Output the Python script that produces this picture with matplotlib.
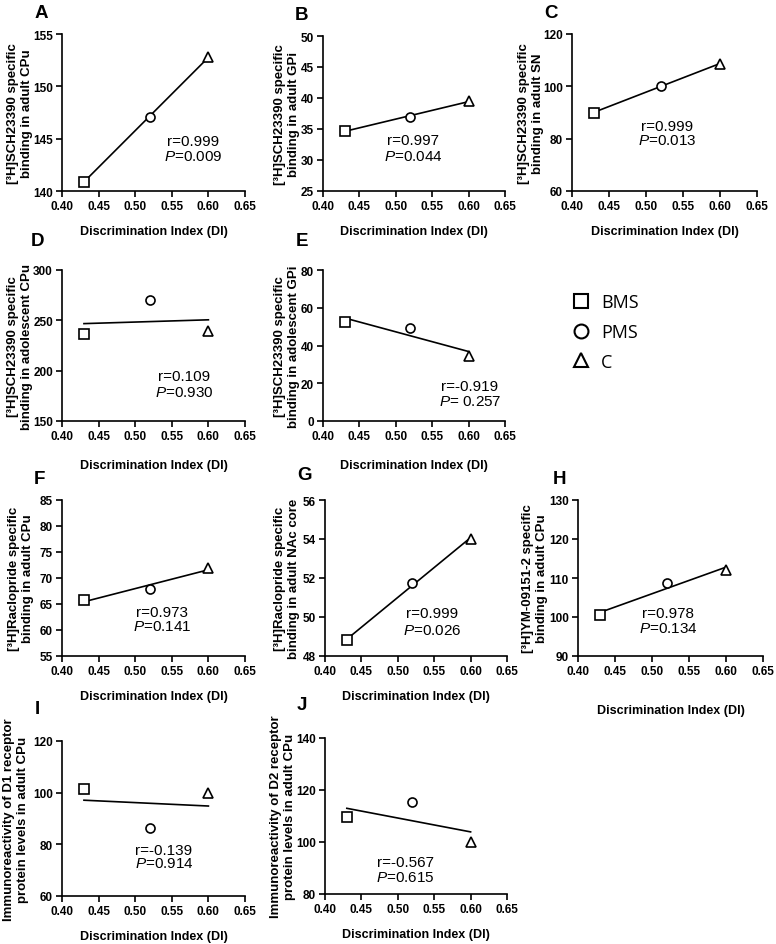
import numpy as np
import matplotlib
matplotlib.use("Agg")
import matplotlib.pyplot as plt
from matplotlib.lines import Line2D

plt.rcParams['font.family'] = ['Liberation Sans', 'DejaVu Sans']
plt.rcParams['mathtext.fontset'] = 'custom'
plt.rcParams['mathtext.rm'] = 'Liberation Sans'
plt.rcParams['mathtext.it'] = 'Liberation Sans:italic'

# ---------------- data ----------------
groups = ['BMS', 'PMS', 'C']
di = [0.43, 0.52, 0.60]

a_sch_adult_cpu = [140.9, 147.1, 152.8]
b_sch_adult_gpi = [34.7, 37.0, 39.5]
c_sch_adult_sn = [90.0, 100.2, 108.6]
d_sch_adol_cpu = [236.5, 270.5, 239.0]
e_sch_adol_gpi = [52.5, 49.5, 34.5]
f_raclo_adult_cpu = [65.8, 67.9, 72.0]
g_raclo_adult_nac = [48.8, 51.75, 54.0]
h_ym_adult_cpu = [100.5, 108.8, 112.0]
i_d1_adult_cpu = [101.5, 86.5, 99.8]
j_d2_adult_cpu = [109.5, 115.5, 100.0]

r_texts = ['r=0.999', 'r=0.997', 'r=0.999', 'r=0.109', 'r=-0.919',
           'r=0.973', 'r=0.999', 'r=0.978', 'r=-0.139', 'r=-0.567']
p_texts = ['=0.009', '=0.044', '=0.013', '=0.930', '= 0.257',
           '=0.141', '=0.026', '=0.134', '=0.914', '=0.615']

ylabels = [
    '[³H]SCH23390 specific\nbinding in adult CPu',
    '[³H]SCH23390 specific\nbinding in adult GPi',
    '[³H]SCH23390 specific\nbinding in adult SN',
    '[³H]SCH23390 specific\nbinding in adolescent CPu',
    '[³H]SCH23390 specific\nbinding in adolescent GPi',
    '[³H]Raclopride specific\nbinding in adult CPu',
    '[³H]Raclopride specific\nbinding in adult NAc core',
    '[³H]YM-09151-2 specific\nbinding in adult CPu',
    'Immunoreactivity of D1 receptor\nprotein levels in adult CPu',
    'Immunoreactivity of D2 receptor\nprotein levels in adult CPu',
]
letters = list('ABCDEFGHIJ')
ylims = [(140, 155, 5), (25, 50, 5), (60, 120, 20), (150, 300, 50), (0, 80, 20),
         (55, 85, 5), (48, 56, 2), (90, 130, 10), (60, 120, 20), (80, 140, 20)]
xticks = [0.40, 0.45, 0.50, 0.55, 0.60, 0.65]
series = [a_sch_adult_cpu, b_sch_adult_gpi, c_sch_adult_sn, d_sch_adol_cpu,
          e_sch_adol_gpi, f_raclo_adult_cpu, g_raclo_adult_nac, h_ym_adult_cpu,
          i_d1_adult_cpu, j_d2_adult_cpu]

# ---------------- layout (pixels) ----------------
W, H = 776, 945
# left, top, right, bottom
boxes = [(62, 35, 245, 192), (323, 37, 505, 192), (572, 35, 757, 192),
         (62, 271, 245, 422), (323, 271, 505, 422),
         (62, 501, 245, 657), (325, 501, 507, 657), (578, 501, 763, 657),
         (62, 742, 245, 897), (325, 739, 507, 895)]
letter_pos = [(41, 14), (302, 15), (551, 14), (38, 241), (302, 241),
              (39, 480), (305, 476), (560, 480), (37, 709), (302, 706)]
xlabel_y = [232, 232, 232, 466, 466, 697, 697, 711, 937, 935]
ylabel_x = [20, 287, 531, 20, 287, 21, 287, 535, 16, 283]
# r / P text centres (x, y_r, y_p) in pixels
rp_pos = [(193, 142, 157), (413, 141, 157), (667, 127, 141), (184, 377, 393),
          (470, 387, 402), (162, 613, 627), (432, 614, 631), (668, 614, 629),
          (164, 851, 864), (405, 863, 878)]

markers = ['s', 'o', '^']

fig = plt.figure(figsize=(W / 100, H / 100), dpi=100)

for k in range(10):
    l, t, r, b = boxes[k]
    ax = fig.add_axes([l / W, 1 - b / H, (r - l) / W, (b - t) / H])
    y = series[k]
    for xi, yi, m in zip(di, y, markers):
        ax.plot([xi], [yi], marker=m, ms=6.5, mfc='white', mec='black',
                mew=1.2, ls='none', zorder=3, clip_on=False)
    slope, inter = np.polyfit(di, y, 1)
    xs = np.array([di[0], di[-1]])
    ax.plot(xs, slope * xs + inter, color='black', lw=1.2, zorder=2)

    y0, y1, st = ylims[k]
    ax.set_xlim(0.40, 0.65)
    ax.set_ylim(y0, y1)
    ax.set_xticks(xticks)
    ax.set_xticklabels([f'{v:.2f}' for v in xticks])
    ax.set_yticks(np.arange(y0, y1 + st / 2, st))
    for s in ['top', 'right']:
        ax.spines[s].set_visible(False)
    for s in ['left', 'bottom']:
        ax.spines[s].set_linewidth(1.2)
    ax.tick_params(direction='out', length=4, width=1.2, labelsize=8.5, pad=2.5)
    for lab in ax.get_xticklabels() + ax.get_yticklabels():
        lab.set_fontweight('bold')

    ax.set_xlabel('Discrimination Index (DI)', fontsize=9, fontweight='bold', va='center')
    ax.xaxis.set_label_coords(0.5, (b - xlabel_y[k]) / (b - t))
    ax.set_ylabel(ylabels[k], fontsize=9.5, fontweight='bold', va='center', linespacing=1.2)
    ax.yaxis.set_label_coords((ylabel_x[k] - l) / (r - l), 0.5)

    px, pyr, pyp = rp_pos[k]
    ax.text((px - l) / (r - l), (b - pyr) / (b - t), r_texts[k], transform=ax.transAxes,
            ha='center', va='center', fontsize=11)
    ax.text((px - l) / (r - l), (b - pyp) / (b - t), r'$\mathit{P}$' + p_texts[k],
            transform=ax.transAxes, ha='center', va='center', fontsize=11)

    lx, ly = letter_pos[k]
    fig.text(lx / W, 1 - ly / H, letters[k], fontsize=13.5, fontweight='bold',
             ha='center', va='center')

handles = [Line2D([], [], marker=m, ms=10, mfc='white', mec='black', mew=1.5, ls='none')
           for m in markers]
fig.legend(handles, groups, loc='center left', bbox_to_anchor=(572 / W, 1 - 333 / H),
           frameon=False, prop={'family': 'Open Sans', 'size': 13},
           handlelength=1.0, handletextpad=0.6, labelspacing=0.65, borderpad=0,
           borderaxespad=0)

fig.savefig('out.png', dpi=100)
